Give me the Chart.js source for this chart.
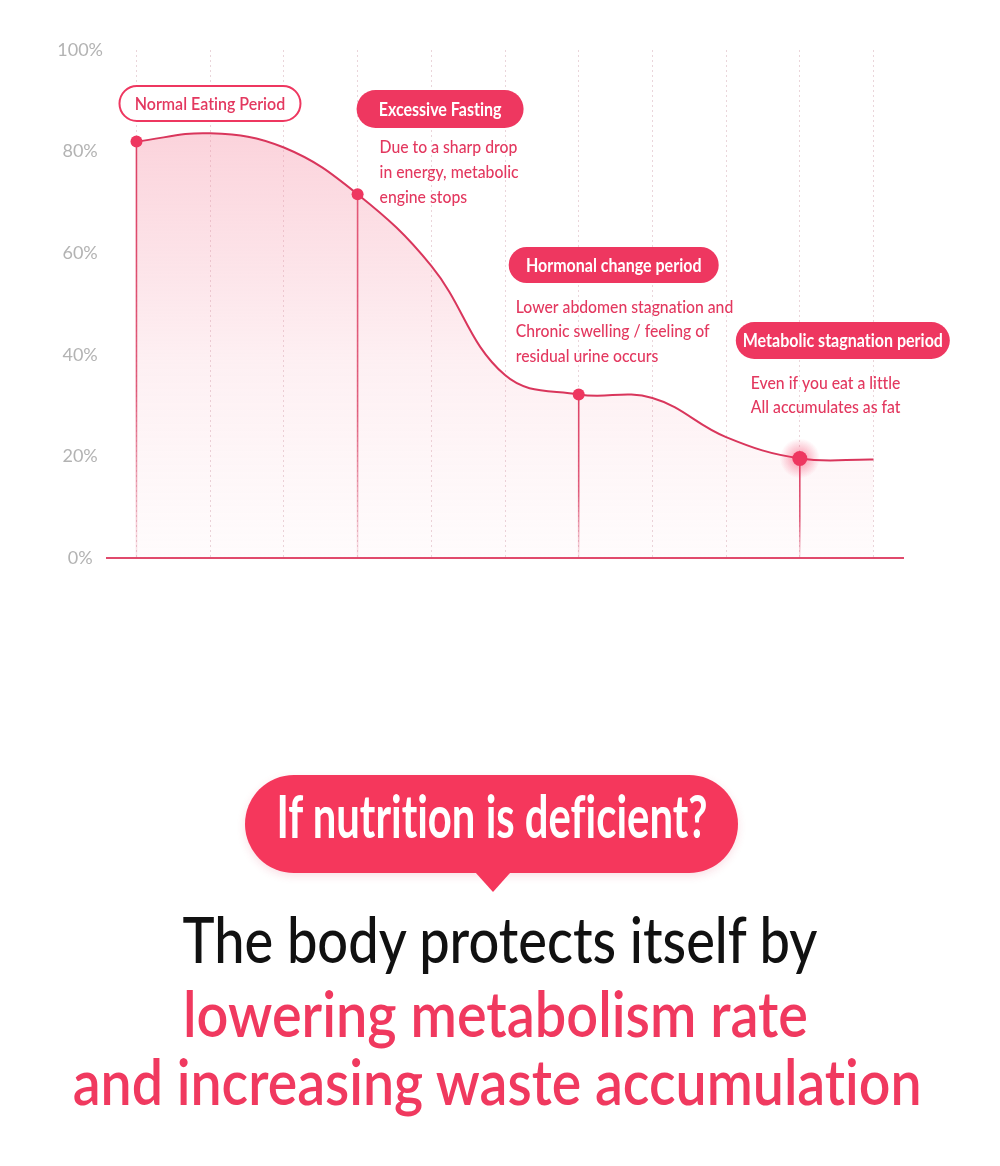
<!DOCTYPE html>
<html>
<head>
<meta charset="utf-8">
<script src="https://cdn.jsdelivr.net/npm/chart.js@4/dist/chart.umd.min.js"></script>
<style>
  html, body { margin: 0; padding: 0; background: #fff; }
  body { width: 1000px; height: 1166px; position: relative; overflow: hidden; font-family: Lato, "Noto Sans", sans-serif;
         font-variant-ligatures: none; }
  #chartBox { position: absolute; left: 0; top: 0; width: 1000px; height: 600px; }
  .bubble { position: absolute; left: 245px; top: 775px; width: 493px; height: 98px; border-radius: 49px;
            background: #f5375c; box-shadow: 0 3px 8px rgba(220, 40, 80, 0.15); }
  .bubble:after { content: ""; position: absolute; left: 230px; top: 97px; border-left: 18px solid transparent;
                  border-right: 18px solid transparent; border-top: 20px solid #f5375c; }
  .line { position: absolute; left: 0; width: 1000px; text-align: center; white-space: nowrap; line-height: 1; }
  .line span { display: inline-block; transform-origin: center; }
  .q { top: 785px; font-size: 60px; font-weight: 700; color: #fff; }
  .h1 { top: 907px; font-size: 63px; font-weight: 500; color: #111; }
  .h2 { top: 981px; font-size: 63px; font-weight: 600; color: #f0395f; }
  .h3 { top: 1049px; font-size: 63px; font-weight: 600; color: #f0395f; }
</style>
</head>
<body>
<div id="chartBox"><canvas id="curve" width="1000" height="600"></canvas></div>

<div class="bubble"></div>
<div class="line q" style="left:-8px"><span data-w="431">If nutrition is deficient?</span></div>
<div class="line h1"><span data-w="635">The body protects itself by</span></div>
<div class="line h2" style="left:-5px"><span data-w="625">lowering metabolism rate</span></div>
<div class="line h3" style="left:-3px"><span data-w="849">and increasing waste accumulation</span></div>

<script>
// data
const steps = [0, 1, 2, 3, 4, 5, 6, 7, 8, 9, 10];
const metabolism = [82, 83.6, 80.8, 71.6, 57.5, 36, 32.2, 31.5, 23.8, 19.6, 19.4];
const yTicks = [0, 20, 40, 60, 80, 100];

const stageIndex = [0, 3, 6, 9];
const stageTitles = ['Normal Eating Period', 'Excessive Fasting', 'Hormonal change period', 'Metabolic stagnation period'];
const stageNotes = [
  [],
  ['Due to a sharp drop', 'in energy, metabolic', 'engine stops'],
  ['Lower abdomen stagnation and', 'Chronic swelling / feeling of', 'residual urine occurs'],
  ['Even if you eat a little', 'All accumulates as fat']
];

const RED = '#ee3760';
const LINE = '#d9365c';
const TEXT = '#e3385f';

// callout placement (pill box relative to the stage point, notes below it)
const calloutLayout = [
  { dx: -17, top: 86, w: 181, h: 35, outline: true },
  { dx: -1, top: 90, w: 167, h: 38, nx: 22, ny: 147, step: 25 },
  { dx: -70, top: 247, w: 210, h: 36, nx: -63, ny: 307, step: 24.5 },
  { dx: -64, top: 322, w: 214, h: 37, nx: -49, ny: 383, step: 24 }
];

function squeezeText(ctx, text, x, y, sx) {
  ctx.save();
  ctx.translate(x, y);
  ctx.scale(sx, 1);
  ctx.fillText(text, 0, 0);
  ctx.restore();
}

function roundRect(ctx, x, y, w, h) {
  const r = h / 2;
  ctx.beginPath();
  ctx.moveTo(x + r, y);
  ctx.lineTo(x + w - r, y);
  ctx.arc(x + w - r, y + r, r, -Math.PI / 2, Math.PI / 2);
  ctx.lineTo(x + r, y + h);
  ctx.arc(x + r, y + r, r, Math.PI / 2, Math.PI * 1.5);
  ctx.closePath();
}

const stagePlugin = {
  id: 'stages',
  beforeDatasetsDraw(chart) {
    const { ctx, scales: { x, y } } = chart;
    const base = y.getPixelForValue(0);
    stageIndex.forEach((i) => {
      const px = x.getPixelForValue(steps[i]);
      const py = y.getPixelForValue(metabolism[i]);
      const g = ctx.createLinearGradient(0, py, 0, base);
      g.addColorStop(0, LINE);
      g.addColorStop(0.6, 'rgba(217,54,92,0.8)');
      g.addColorStop(1, 'rgba(217,54,92,0.1)');
      ctx.save();
      ctx.strokeStyle = g;
      ctx.lineWidth = 1.6;
      ctx.beginPath();
      ctx.moveTo(px, py);
      ctx.lineTo(px, base);
      ctx.stroke();
      ctx.restore();
    });
  },
  afterDatasetsDraw(chart) {
    const { ctx, scales: { x, y } } = chart;
    // glow round the last stage point
    const gi = stageIndex[stageIndex.length - 1];
    const gx = x.getPixelForValue(steps[gi]);
    const gy = y.getPixelForValue(metabolism[gi]);
    const glow = ctx.createRadialGradient(gx, gy, 4, gx, gy, 20);
    glow.addColorStop(0, 'rgba(245,60,100,0.45)');
    glow.addColorStop(1, 'rgba(245,60,100,0)');
    ctx.save();
    ctx.fillStyle = glow;
    ctx.beginPath();
    ctx.arc(gx, gy, 20, 0, Math.PI * 2);
    ctx.fill();
    ctx.fillStyle = RED;
    ctx.beginPath();
    ctx.arc(gx, gy, 7.5, 0, Math.PI * 2);
    ctx.fill();
    ctx.restore();

    stageIndex.forEach((i, k) => {
      const L = calloutLayout[k];
      const px = x.getPixelForValue(steps[i]);
      const bx = px + L.dx;
      ctx.save();
      ctx.textRendering = 'optimizeSpeed';
      roundRect(ctx, bx, L.top, L.w, L.h);
      if (L.outline) {
        ctx.fillStyle = '#fff';
        ctx.fill();
        ctx.lineWidth = 2;
        ctx.strokeStyle = RED;
        ctx.stroke();
        ctx.fillStyle = TEXT;
        ctx.font = '600 18px Lato';
      } else {
        ctx.fillStyle = RED;
        ctx.fill();
        ctx.fillStyle = '#fff';
        ctx.font = '700 18px Lato';
      }
      ctx.textAlign = 'center';
      ctx.textBaseline = 'middle';
      squeezeText(ctx, stageTitles[k], bx + L.w / 2, L.top + L.h / 2 + 1, 0.89);

      ctx.fillStyle = TEXT;
      ctx.font = '500 17.5px Lato';
      ctx.textAlign = 'left';
      stageNotes[k].forEach((t, j) => {
        squeezeText(ctx, t, px + L.nx, L.ny + j * L.step, 0.9);
      });
      ctx.restore();
    });
  }
};

const ctx = document.getElementById('curve').getContext('2d');
new Chart(ctx, {
  type: 'line',
  data: {
    datasets: [{
      data: steps.map((s, i) => ({ x: s, y: metabolism[i] })),
      borderColor: LINE,
      borderWidth: 2,
      tension: 0.4,
      fill: 'origin',
      backgroundColor: (c) => {
        const area = c.chart.chartArea;
        if (!area) return 'rgba(246,150,170,0.3)';
        const g = c.chart.ctx.createLinearGradient(0, area.top + 80, 0, area.bottom);
        g.addColorStop(0, 'rgba(246,150,170,0.42)');
        g.addColorStop(0.55, 'rgba(246,150,170,0.14)');
        g.addColorStop(1, 'rgba(246,150,170,0.03)');
        return g;
      },
      pointRadius: steps.map((s, i) => (stageIndex.includes(i) && i !== stageIndex[stageIndex.length - 1]) ? 6 : 0),
      pointHoverRadius: 0,
      pointBackgroundColor: RED,
      pointBorderWidth: 0
    }]
  },
  options: {
    responsive: false,
    animation: false,
    layout: { padding: { left: 57, right: 97, top: 50, bottom: 42 } },
    plugins: { legend: { display: false }, tooltip: { enabled: false } },
    scales: {
      x: {
        type: 'linear',
        min: -0.4,
        max: 10.4,
        afterFit: (a) => { a.height = 0; },
        ticks: { display: false, stepSize: 1, includeBounds: false },
        grid: { color: 'rgba(225,195,202,0.7)', lineWidth: 1, drawTicks: false },
        border: { display: true, color: '#e04a6c', width: 2, dash: [2, 3] }
      },
      y: {
        min: 0,
        max: 100,
        afterFit: (a) => { a.width = 50; },
        afterBuildTicks: (a) => { a.ticks = yTicks.map(v => ({ value: v })); },
        ticks: { callback: (v) => v + '%', color: '#b3b3b3', font: { family: 'Lato', size: 18 }, padding: 4, crossAlign: 'center' },
        grid: { display: false, drawTicks: false },
        border: { display: false }
      }
    }
  },
  plugins: [stagePlugin]
});

// fit headline lines to the widths measured on the reference
document.querySelectorAll('.line span').forEach(el => {
  const w = el.getBoundingClientRect().width;
  el.style.transform = 'scaleX(' + (parseFloat(el.dataset.w) / w) + ')';
});
</script>
</body>
</html>
